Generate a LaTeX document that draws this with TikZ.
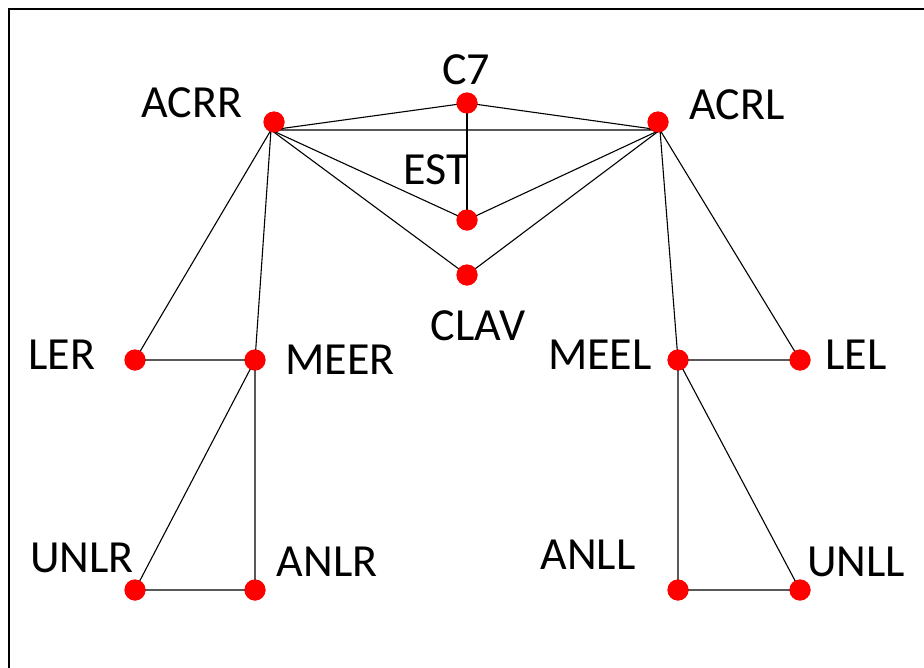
\documentclass[tikz,border=0pt]{standalone}
\usepackage{fontspec}
\setmainfont{Carlito}

\begin{document}
\begin{tikzpicture}[x=1pt, y=-1pt, line width=1.1pt,
    dot/.style = {circle, fill=red, inner sep=0pt, minimum size=21pt},
    lbl/.style = {inner sep=0pt, font=\fontsize{46}{50}\selectfont}]
        \useasboundingbox (0,0) rectangle (924,667);
        \draw[line width=1.6pt] (9,700) -- (9,9) -- (940,9);

        \node[dot] (ACRR) at (274,122) {};
        \node[dot] (C7) at (467,103) {};
        \node[dot] (ACRL) at (658,122) {};
        \node[dot] (EST) at (467,220) {};
        \node[dot] (CLAV) at (467,275) {};
        \node[dot] (LER) at (135,360) {};
        \node[dot] (MEER) at (255,360) {};
        \node[dot] (MEEL) at (678,360) {};
        \node[dot] (LEL) at (800,360) {};
        \node[dot] (UNLR) at (135,590) {};
        \node[dot] (ANLR) at (255,590) {};
        \node[dot] (ANLL) at (678,590) {};
        \node[dot] (UNLL) at (800,590) {};

        % the shoulder lines meet just under the dots
        \coordinate (ACRRj) at ([shift={(-3,8)}]ACRR.center);
        \coordinate (ACRLj) at ([shift={(2,8)}]ACRL.center);

        \node[lbl] (tACRR) at (192,103) {ACRR};
        \node[lbl] (tC7) at (466,70) {C7};
        \node[lbl] (tACRL) at (737,105) {ACRL};
        \node[lbl] (tEST) at (436,170) {EST};
        \node[lbl] (tCLAV) at (478,326) {CLAV};
        \node[lbl] (tLER) at (62,355) {LER};
        \node[lbl] (tMEER) at (340,360) {MEER};
        \node[lbl] (tMEEL) at (600,355) {MEEL};
        \node[lbl] (tLEL) at (856,355) {LEL};
        \node[lbl] (tUNLR) at (82,558) {UNLR};
        \node[lbl] (tANLR) at (327,562) {ANLR};
        \node[lbl] (tANLL) at (588,555) {ANLL};
        \node[lbl] (tUNLL) at (856,562) {UNLL};

        \draw (ACRRj) -- (C7.center) -- (ACRLj) -- (ACRRj);
        \draw (C7.center) -- (EST.center);
        \draw (ACRRj) -- (EST.center) -- (ACRLj);
        \draw (ACRRj) -- (CLAV.center) -- (ACRLj);
        \draw (ACRRj) -- (LER.center) -- (MEER.center) -- (ACRRj);
        \draw (ACRLj) -- (LEL.center) -- (MEEL.center) -- (ACRLj);
        \draw (MEER.center) -- (UNLR.center) -- (ANLR.center) -- (MEER.center);
        \draw (MEEL.center) -- (ANLL.center) -- (UNLL.center) -- (MEEL.center);

        % dots on top of the lines
        \foreach \n in {ACRR,C7,ACRL,EST,CLAV,LER,MEER,MEEL,LEL,UNLR,ANLR,ANLL,UNLL}
            \fill[red] (\n) circle (10.5pt);
    \end{tikzpicture}
\end{document}
